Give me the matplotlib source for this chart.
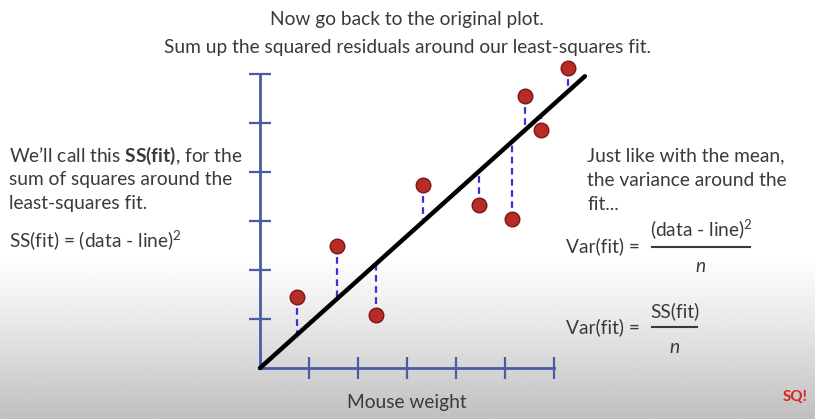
import matplotlib.pyplot as plt
import numpy as np

# data (axis units = tick spacing)
mouse_weight = [0.76, 1.57, 2.36, 3.33, 4.46, 5.14, 5.41, 5.74, 6.29]
mouse_size = [1.44, 2.50, 1.08, 3.73, 3.33, 3.04, 5.55, 4.86, 6.13]
fit_x = [0.0, 6.63]
fit_slope = 0.898
x_ticks = [1, 2, 3, 4, 5, 6]
y_ticks = [1, 2, 3, 4, 5, 6]

plt.rcParams['font.family'] = ['Lato', 'DejaVu Sans']
plt.rcParams['mathtext.fontset'] = 'custom'
plt.rcParams['mathtext.rm'] = 'Lato'
plt.rcParams['mathtext.bf'] = 'Lato:bold'
plt.rcParams['mathtext.it'] = 'Lato:italic'

W, H = 815, 419
fig = plt.figure(figsize=(W / 100, H / 100), dpi=100)

# background: white slide fading to grey at the bottom
bg = fig.add_axes([0, 0, 1, 1])
yy = np.linspace(0, 1, H)
shade = np.where(yy < 0.6, 1.0, 1.0 - 0.25 * ((yy - 0.6) / 0.4) ** 1.2)
bg.imshow(np.tile(shade[:, None], (1, 10)), cmap='gray', vmin=0, vmax=1,
          aspect='auto', extent=[0, W, H, 0])
bg.set_xlim(0, W)
bg.set_ylim(H, 0)
bg.axis('off')

# plot area: origin at pixel (260, 368), 49 px per unit
ox, oy, unit = 260, 368, 49
ax = fig.add_axes([ox / W, (H - oy) / H, 6 * unit / W, 6 * unit / H])
ax.patch.set_alpha(0)
ax.set_xlim(0, 6)
ax.set_ylim(0, 6)
axis_col = '#4B5BA5'
for s in ['top', 'right']:
    ax.spines[s].set_visible(False)
for s in ['left', 'bottom']:
    ax.spines[s].set_color(axis_col)
    ax.spines[s].set_linewidth(2)
ax.set_xticks(x_ticks)
ax.set_yticks(y_ticks)
ax.tick_params(direction='inout', length=16, width=1.6, color=axis_col,
               labelbottom=False, labelleft=False)

fx = np.array(fit_x)
ax.plot(fx, fit_slope * fx, color='black', lw=3.2, clip_on=False, zorder=3,
        solid_capstyle='round')
for x, y in zip(mouse_weight, mouse_size):
    ax.plot([x, x], [y, fit_slope * x], color='#3B2FD6', lw=1.6,
            ls=(0, (3, 2)), clip_on=False, zorder=2)
ax.scatter(mouse_weight, mouse_size, s=110, color='#B72C26',
           edgecolor='#7A1510', linewidth=1, zorder=4, clip_on=False)


def txt(x, y, s, **kw):
    kw.setdefault('fontsize', 13.8)
    kw.setdefault('color', '#3A3A3A')
    kw.setdefault('va', 'center')
    fig.text(x / W, 1 - y / H, s, **kw)


txt(407, 20, "Now go back to the original plot.", ha='center')
txt(407, 47, "Sum up the squared residuals around our least-squares fit.", ha='center')

txt(9, 156, r"We’ll call this $\mathbf{SS(fit)}$, for the")
txt(9, 179, "sum of squares around the")
txt(9, 203, "least-squares fit.")
txt(9, 240, r"SS(fit) = (data - line)$^2$")

txt(587, 156, "Just like with the mean,")
txt(587, 180, "the variance around the")
txt(587, 204, "fit...")

txt(566, 246, "Var(fit) =")
txt(701, 229, r"(data - line)$^2$", ha='center')
bg.plot([652, 750], [247, 247], color='#3A3A3A', lw=1.5)
txt(701, 266, "n", ha='center', style='italic')

txt(566, 327, "Var(fit) =")
txt(675, 311, "SS(fit)", ha='center')
bg.plot([652, 697], [327, 327], color='#3A3A3A', lw=1.5)
txt(675, 347, "n", ha='center', style='italic')

txt(407, 402, "Mouse weight", ha='center')

# little channel logo in the corner
txt(795, 397, "SQ!", ha='center', fontsize=11, fontweight='bold', color='#D8261F')

fig.savefig('out.png', dpi=100)
plt.close()
